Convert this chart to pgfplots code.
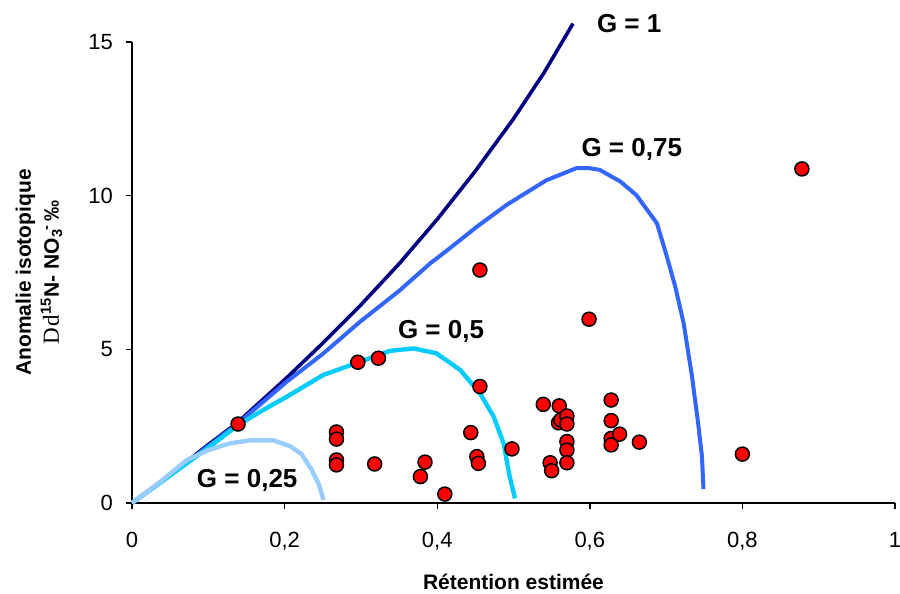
\documentclass[border=0pt]{standalone}
\usepackage{fontspec}
\setmainfont{Liberation Sans}
\newfontfamily\serif{Liberation Serif}
\usepackage{pgfplots}
\pgfplotsset{compat=1.18}
\definecolor{gone}{RGB}{0,0,128}
\definecolor{gtrois}{RGB}{51,102,255}
\definecolor{gdemi}{RGB}{0,204,255}
\definecolor{gquart}{RGB}{153,204,255}

\begin{document}
\begin{tikzpicture}
\begin{axis}[
    name=ax,
    scale only axis,
    width=381.5pt, height=230.5pt,
    xmin=0, xmax=1, ymin=0, ymax=15,
    axis lines*=left,
    axis line style={-, line width=0.7pt},
    clip=false,
    tick align=outside,
    major tick length=3pt,
    tick style={black, line width=0.7pt},
    xtick={0,0.2,0.4,0.6,0.8,1},
    xticklabels={0,{0,2},{0,4},{0,6},{0,8},1},
    ytick={0,5,10,15},
    yticklabels={0,5,10,15},
    ticklabel style={font=\fontsize{11}{13}\selectfont},
    xticklabel style={yshift=-8pt},
    yticklabel style={xshift=-3pt},
    xlabel={\textbf{Rétention estimée}},
    xlabel style={at={(axis description cs:0.5,-0.171)}, anchor=center, font=\fontsize{10.5}{13}\selectfont},
    ylabel={\textbf{Anomalie isotopique}\\{\serif\fontsize{11.5}{14}\selectfont D\kern1pt d}\textbf{\textsuperscript{15}N- NO\textsubscript{3}\kern-1pt\textsuperscript{-}\,‰}},
    ylabel style={at={(axis description cs:-0.122,0.5)}, anchor=center, align=center, font=\fontsize{10.5}{14}\selectfont},
]
% G = 1
\addplot[gone, line width=1.8pt, sharp plot] coordinates {
(0,0) (0.05,0.92) (0.10,1.90) (0.137,2.59) (0.203,4.08) (0.25,5.2) (0.299,6.42)
(0.35,7.78) (0.40,9.23) (0.45,10.8) (0.50,12.5) (0.54,14.0) (0.578,15.6)};
% G = 0,75
\addplot[gtrois, line width=2pt, sharp plot] coordinates {
(0,0) (0.05,0.9) (0.10,1.85) (0.137,2.55) (0.203,3.95) (0.25,4.85) (0.299,5.9)
(0.35,6.9) (0.391,7.8) (0.412,8.2) (0.452,8.99) (0.491,9.7) (0.543,10.5)
(0.583,10.9) (0.598,10.9) (0.613,10.84) (0.640,10.46) (0.661,10.02) (0.688,9.10)
(0.701,8.02) (0.712,7.04) (0.723,5.85) (0.734,4.11) (0.742,2.59) (0.747,1.51) (0.749,0.45)};
% G = 0,5
\addplot[gdemi, line width=2.2pt, sharp plot] coordinates {
(0,0) (0.05,0.9) (0.10,1.8) (0.137,2.5) (0.17,3.0) (0.203,3.46) (0.251,4.17)
(0.294,4.55) (0.338,4.95) (0.369,5.03) (0.399,4.87) (0.430,4.33) (0.456,3.57)
(0.474,2.81) (0.487,1.94) (0.495,0.86) (0.502,0.15)};
% G = 0,25
\addplot[gquart, line width=2.2pt, sharp plot] coordinates {
(0,0) (0.04,0.75) (0.072,1.40) (0.10,1.72) (0.128,1.94) (0.155,2.04) (0.185,2.04)
(0.207,1.85) (0.222,1.6) (0.235,1.1) (0.245,0.6) (0.251,0.1)};
% mesures
\addplot[only marks, mark=*, mark size=3.5pt, mark options={fill=red, draw=black, line width=0.75pt}] coordinates {
(0.139,2.57)
(0.268,2.31) (0.268,2.08) (0.268,1.40) (0.268,1.24)
(0.318,1.27) (0.296,4.58) (0.323,4.71)
(0.456,7.58) (0.456,3.79) (0.444,2.29) (0.452,1.51) (0.454,1.29) (0.498,1.76)
(0.384,1.33) (0.378,0.86) (0.410,0.29)
(0.599,5.98) (0.800,1.59) (0.878,10.87)
(0.539,3.21) (0.560,3.16) (0.559,2.61) (0.562,2.70) (0.570,2.83) (0.570,2.57)
(0.570,2.00) (0.570,1.72) (0.570,1.31) (0.548,1.31) (0.550,1.05)
(0.628,3.35) (0.628,2.68) (0.628,2.10) (0.628,1.89) (0.639,2.24) (0.665,1.98)};
\node[anchor=west, font=\fontsize{13}{15}\selectfont\bfseries, inner sep=0pt] at (axis cs:0.609,15.59) {G = 1};
\node[font=\fontsize{13}{15}\selectfont\bfseries, inner sep=0pt] at (axis cs:0.655,11.49) {G = 0,75};
\node[font=\fontsize{13}{15}\selectfont\bfseries, inner sep=0pt] at (axis cs:0.405,5.57) {G = 0,5};
\node[font=\fontsize{13}{15}\selectfont\bfseries, inner sep=0pt] at (axis cs:0.151,0.75) {G = 0,25};
\end{axis}
\pgfresetboundingbox
\path (-66pt,-45.5pt) rectangle (384pt,251.5pt);
\end{tikzpicture}
\end{document}
